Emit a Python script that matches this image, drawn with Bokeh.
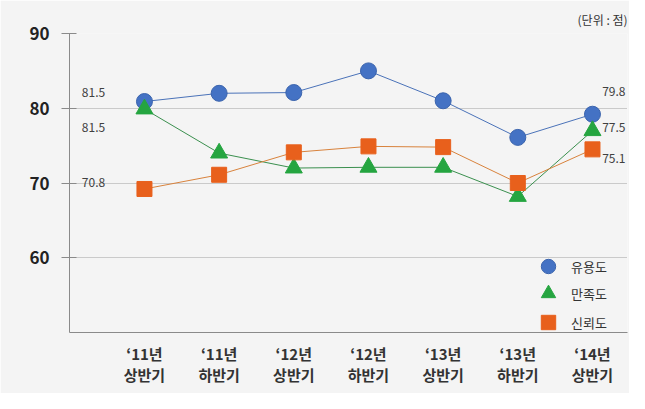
from bokeh.plotting import figure
from bokeh.models import (Range1d, FixedTicker, ColumnDataSource, Legend, LegendItem)
from bokeh.core.properties import value
from bokeh.embed import file_html
from bokeh.resources import INLINE

# ---- data ----
periods = ["‘11년\n상반기", "‘11년\n하반기", "‘12년\n상반기", "‘12년\n하반기",
           "‘13년\n상반기", "‘13년\n하반기", "‘14년\n상반기"]
usefulness = [80.9, 82.0, 82.1, 85.0, 81.0, 76.1, 79.2]    # 유용도
satisfaction = [79.9, 74.0, 72.0, 72.1, 72.1, 68.2, 77.0]  # 만족도
trust = [69.2, 71.1, 74.1, 74.9, 74.8, 70.0, 74.5]         # 신뢰도
series_names = ["유용도", "만족도", "신뢰도"]
label_index = [0, 6]
usefulness_labels = ["81.5", "79.8"]
satisfaction_labels = ["81.5", "77.5"]
trust_labels = ["70.8", "75.1"]
y_ticks = [60, 70, 80, 90]
unit_text = "(단위 : 점)"

FONT = "Noto Sans CJK KR"
BG = "#f4f4f4"
BLUE = "#4472c4"
GREEN = "#25a540"
ORANGE = "#e8601c"

xs = list(range(len(periods)))

p = figure(width=629, height=393, output_backend="svg", toolbar_location=None,
           x_range=Range1d(-1.004, 6.469), y_range=Range1d(50, 90),
           min_border_left=69, min_border_right=2, min_border_top=33,
           min_border_bottom=61)
p.background_fill_color = BG
p.border_fill_color = BG
p.outline_line_color = None

p.title.text = unit_text
p.title.align = "right"
p.title.text_font = FONT
p.title.text_font_size = "12px"
p.title.text_font_style = "normal"
p.title.text_color = "#333333"
p.title.standoff = 12

# axes
p.xaxis.ticker = FixedTicker(ticks=xs)
p.xaxis.major_label_overrides = {i: t for i, t in zip(xs, periods)}
p.xaxis.major_tick_in = 0
p.xaxis.major_tick_out = 0
p.xaxis.minor_tick_line_color = None
p.xaxis.axis_line_color = "#8a8a8a"
p.xaxis.major_label_standoff = 10
p.xaxis.major_label_text_font = FONT
p.xaxis.major_label_text_font_size = "15px"
p.xaxis.major_label_text_font_style = "bold"
p.xaxis.major_label_text_color = "#333333"
p.xaxis.major_label_text_line_height = 1.0

p.yaxis.ticker = FixedTicker(ticks=y_ticks)
p.yaxis.major_tick_in = 7
p.yaxis.major_tick_out = 8
p.yaxis.minor_tick_line_color = None
p.yaxis.axis_line_color = "#8a8a8a"
p.yaxis.major_tick_line_color = "#8a8a8a"
p.yaxis.major_label_standoff = 12
p.yaxis.major_label_text_font = FONT
p.yaxis.major_label_text_font_size = "17px"
p.yaxis.major_label_text_font_style = "bold"
p.yaxis.major_label_text_color = "#222222"

p.xgrid.grid_line_color = None
p.ygrid.grid_line_color = "#a0a0a0"
p.ygrid.grid_line_dash = "1 1"
p.ygrid.grid_line_width = 1

# lines
p.line(xs, usefulness, line_color="#4a72b8", line_width=1)
p.line(xs, satisfaction, line_color="#3a8f4e", line_width=1)
p.line(xs, trust, line_color="#d8823c", line_width=1)

# markers
r_blue = p.scatter(xs, usefulness, marker="circle", size=16, fill_color=BLUE,
                   line_color="#3b64ad", line_width=1)
r_green = p.scatter(xs, satisfaction, marker="triangle", size=17, fill_color=GREEN,
                    line_color=GREEN, line_width=1)
r_orange = p.scatter(xs, trust, marker="square", size=15, fill_color=ORANGE,
                     line_color=ORANGE, line_width=1)

# data labels (first point: centred to the left; last point: right-aligned)
all_vals = (usefulness, satisfaction, trust)
all_labs = (usefulness_labels, satisfaction_labels, trust_labels)
left_dy = [-9, 19, -6]
right_dy = [-23, -3, 9]
for side, dys, align, dxv in (("L", left_dy, "center", -51), ("R", right_dy, "right", 33)):
    k = 0 if side == "L" else 1
    idx = label_index[k]
    src = ColumnDataSource(dict(
        x=[idx] * 3,
        y=[vals[idx] for vals in all_vals],
        text=[labs[k] for labs in all_labs],
        dy=dys))
    p.text(x="x", y="y", text="text", x_offset=dxv, y_offset="dy", source=src,
           text_align=align, text_baseline="middle", text_font=value(FONT),
           text_font_size="12px", text_color="#404040")

# legend: one single-item legend per series, stacked
renderers = [r_blue, r_green, r_orange]
legend_y = [48, 21, -8]
for name, r, ly in zip(series_names, renderers, legend_y):
    lg = Legend(items=[LegendItem(label=name, renderers=[r])],
                location=(461, ly), glyph_width=36, glyph_height=36,
                padding=0, margin=0, label_standoff=5,
                background_fill_alpha=0, border_line_color=None,
                label_text_font=FONT, label_text_font_size="13px",
                label_text_color="#333333")
    p.add_layout(lg, "center")

open("out.html", "w").write(file_html(p, INLINE))
